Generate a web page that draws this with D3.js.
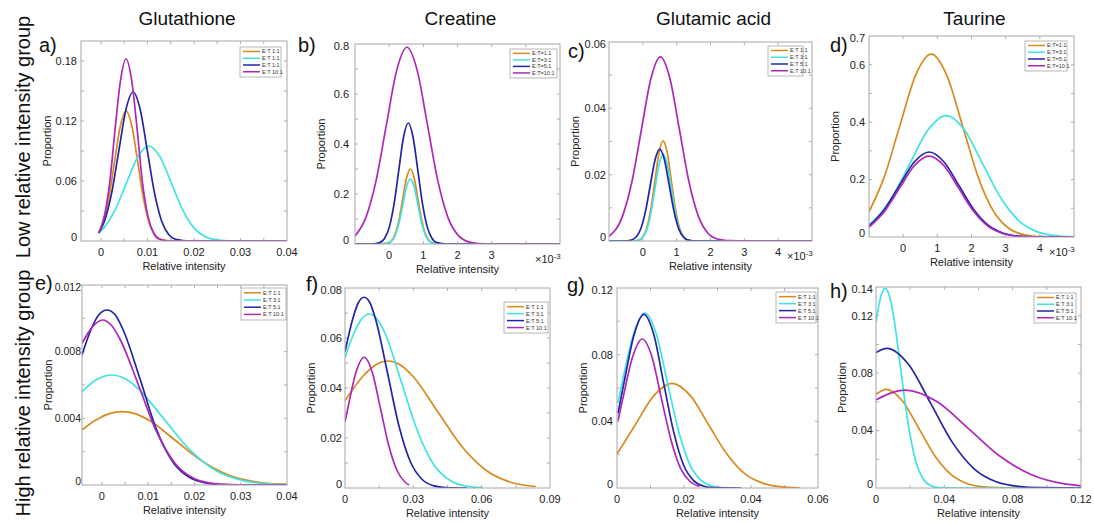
<!DOCTYPE html>
<html>
<head>
<meta charset="utf-8">
<script src="https://cdn.jsdelivr.net/npm/d3@7"></script>
<style>
  body { margin: 0; background: #fff; }
  svg { display: block; font-family: "Liberation Sans", Arial, sans-serif; }
</style>
</head>
<body>
<svg id="fig" width="1094" height="524"></svg>
<script>
// column / row headings
const colTitles = ["Glutathione", "Creatine", "Glutamic acid", "Taurine"];
const rowTitles = ["Low relative intensity group", "High relative intensity group"];

// legend entries (as printed in each panel)
const legendA = ["E:T 1:1", "E:T 1:1", "E:T 1:1", "E:T 10:1"];
const legendEq = ["E:T=1:1", "E:T=3:1", "E:T=5:1", "E:T=10:1"];
const legendSp = ["E:T 1:1", "E:T 3:1", "E:T 5:1", "E:T 10:1"];

// curves, [relative intensity, proportion]; series order: 1:1, 3:1, 5:1, 10:1
// a) Glutathione, low
const aOrange = [[-0.0005,0.008],[0.0004,0.0176],[0.00165,0.0422],[0.0029,0.0788],[0.00415,0.1147],[0.0054,0.13],[0.00665,0.1147],[0.0079,0.0788],[0.00915,0.0422],[0.0104,0.0176],[0.01165,0.0057],[0.0129,0.0014],[0.0154,0],[0.04,0]];
const aCyan = [[-0.0005,0.008],[0.00058,0.0129],[0.00301,0.0308],[0.00544,0.0576],[0.00787,0.0838],[0.0103,0.095],[0.01273,0.0838],[0.01516,0.0576],[0.01759,0.0308],[0.02002,0.0129],[0.02245,0.0042],[0.02488,0.0011],[0.02731,0.0002],[0.0297,0],[0.04,0]];
const aBlue = [[-0.0005,0.008],[0.00078,0.0202],[0.00231,0.0484],[0.00384,0.0904],[0.00537,0.1315],[0.0069,0.149],[0.00843,0.1315],[0.00996,0.0904],[0.01149,0.0484],[0.01302,0.0202],[0.01455,0.0065],[0.01608,0.0017],[0.01914,0],[0.04,0]];
const aMagenta = [[-0.0005,0.008],[0.0007,0.0246],[0.0019,0.0591],[0.003,0.1104],[0.0042,0.1606],[0.0054,0.182],[0.0066,0.1606],[0.0078,0.1104],[0.0089,0.0591],[0.0101,0.0246],[0.0113,0.008],[0.0125,0.002],[0.0148,0],[0.04,0]];

// b) Creatine, low (x in units of 10^-3)
const bOrange = [[-1,0],[-0.3,0],[-0.04,0.0033],[0.07,0.0132],[0.18,0.0406],[0.29,0.0974],[0.4,0.182],[0.51,0.2648],[0.62,0.3],[0.73,0.2648],[0.84,0.182],[0.95,0.0974],[1.06,0.0406],[1.17,0.0132],[1.28,0.0033],[1.5,0],[5,0]];
const bCyan = [[-1,0],[-0.3,0],[-0.04,0.0029],[0.07,0.0114],[0.18,0.0352],[0.29,0.0844],[0.4,0.1577],[0.51,0.2295],[0.62,0.26],[0.73,0.2295],[0.84,0.1577],[0.95,0.0844],[1.06,0.0352],[1.17,0.0114],[1.28,0.0029],[1.5,0],[5,0]];
const bBlue = [[-1,0],[-0.5,0],[-0.28,0.0054],[-0.14,0.0212],[0,0.0655],[0.14,0.1572],[0.28,0.2935],[0.42,0.4271],[0.56,0.484],[0.7,0.4271],[0.84,0.2935],[0.98,0.1572],[1.12,0.0655],[1.26,0.0212],[1.4,0.0054],[1.68,0],[5,0]];
const bMagenta = [[-1,0.032],[-0.68,0.1065],[-0.38,0.2555],[-0.08,0.4773],[0.22,0.6945],[0.52,0.787],[0.82,0.6945],[1.12,0.4773],[1.42,0.2555],[1.72,0.1065],[2.02,0.0345],[2.32,0.0087],[2.62,0.0017],[3,0],[5,0]];

// c) Glutamic acid, low (x in units of 10^-3)
const cOrange = [[-1,0],[-0.3,0],[-0.12,0.0003],[0,0.0013],[0.12,0.0041],[0.24,0.0098],[0.36,0.0183],[0.48,0.0267],[0.6,0.0302],[0.72,0.0267],[0.84,0.0183],[0.96,0.0098],[1.08,0.0041],[1.2,0.0013],[1.32,0.0003],[1.6,0],[5,0]];
const cCyan = [[-1,0],[-0.3,0],[-0.12,0.0003],[0,0.0012],[0.12,0.0035],[0.24,0.0085],[0.36,0.0159],[0.48,0.0231],[0.6,0.0262],[0.72,0.0231],[0.84,0.0159],[0.96,0.0085],[1.08,0.0035],[1.2,0.0012],[1.32,0.0003],[1.6,0],[5,0]];
const cBlue = [[-1,0],[-0.55,0],[-0.34,0.0003],[-0.2,0.0012],[-0.06,0.0037],[0.08,0.009],[0.22,0.0168],[0.36,0.0244],[0.5,0.0277],[0.64,0.0244],[0.78,0.0168],[0.92,0.009],[1.06,0.0037],[1.2,0.0012],[1.34,0.0003],[1.6,0],[5,0]];
const cMagenta = [[-1,0.0014],[-0.6,0.0075],[-0.32,0.018],[-0.04,0.0337],[0.24,0.049],[0.52,0.0555],[0.8,0.049],[1.08,0.0337],[1.36,0.018],[1.64,0.0075],[1.92,0.0024],[2.2,0.0006],[2.6,0.0001],[3,0],[5,0]];

// d) Taurine, low (x in units of 10^-3)
const dOrange = [[-1,0.088],[-0.56,0.2068],[-0.1,0.3863],[0.36,0.5622],[0.82,0.637],[1.28,0.5622],[1.74,0.3863],[2.2,0.2068],[2.66,0.0862],[3.12,0.028],[3.58,0.0071],[4.04,0.0014],[4.5,0.0002],[5,0]];
const dCyan = [[-1,0.043],[-0.7,0.0764],[-0.33,0.1373],[0.2,0.2566],[0.73,0.3733],[1.26,0.423],[1.79,0.3733],[2.32,0.2566],[2.85,0.1373],[3.38,0.0572],[3.91,0.0186],[4.44,0.0047],[5,0.0008]];
const dBlue = [[-1,0.038],[-0.55,0.0961],[-0.11,0.1795],[0.325,0.2612],[0.76,0.296],[1.195,0.2612],[1.63,0.1795],[2.065,0.0961],[2.5,0.04],[2.935,0.013],[3.37,0.0033],[3.8,0.0007],[4.5,0],[5,0]];
const dMagenta = [[-1,0.0345],[-0.53,0.0916],[-0.1,0.171],[0.33,0.2489],[0.76,0.282],[1.19,0.2489],[1.62,0.171],[2.05,0.0916],[2.48,0.0382],[2.91,0.0124],[3.34,0.0031],[3.8,0.0005],[4.5,0],[5,0]];

// e) Glutathione, high
const eOrange = [[-0.0043,0.0033],[-0.0014,0.00388],[0.0015,0.00427],[0.0044,0.0044],[0.0073,0.00427],[0.0102,0.00388],[0.0159,0.00267],[0.0217,0.00143],[0.0274,0.0006],[0.0332,0.00019],[0.0389,0.00005],[0.04,0.00004]];
const eCyan = [[-0.0043,0.0056],[-0.001,0.00634],[0.0021,0.0066],[0.0049,0.00639],[0.0077,0.00582],[0.0133,0.004],[0.0189,0.00214],[0.0245,0.00089],[0.0301,0.00029],[0.0357,0.00007],[0.04,0.00002]];
const eBlue = [[-0.0043,0.0078],[-0.0024,0.0093],[-0.0007,0.0102],[0.0011,0.0105],[0.0029,0.0102],[0.0046,0.0093],[0.0082,0.0064],[0.0117,0.0034],[0.0153,0.0014],[0.0189,0.00046],[0.0224,0.00012],[0.026,0.00002],[0.03,0],[0.04,0]];
const eMagenta = [[-0.0043,0.0085],[-0.002,0.0095],[0.0001,0.0099],[0.002,0.0096],[0.004,0.0087],[0.0079,0.006],[0.0118,0.0032],[0.0157,0.00134],[0.0196,0.00043],[0.0235,0.00011],[0.0274,0.00002],[0.032,0],[0.04,0]];

// f) Creatine, high
const fOrange = [[0,0.0349],[0.008,0.0448],[0.0134,0.0492],[0.0188,0.0508],[0.0243,0.0492],[0.0297,0.0448],[0.0405,0.0308],[0.0514,0.0165],[0.0622,0.0069],[0.0731,0.0022],[0.0837,0.0006]];
const fCyan = [[0,0.0521],[0.0037,0.0614],[0.0072,0.0675],[0.0107,0.0696],[0.0142,0.0675],[0.0178,0.0614],[0.0248,0.0422],[0.0319,0.0226],[0.0389,0.0094],[0.046,0.0031],[0.053,0.0008],[0.0603,0.00015]];
const fBlue = [[0,0.0545],[0.0033,0.0673],[0.0058,0.074],[0.0084,0.0763],[0.011,0.074],[0.0135,0.0673],[0.0186,0.0463],[0.0237,0.0248],[0.0288,0.0103],[0.0339,0.0034],[0.039,0.00085],[0.0441,0.00017],[0.0536,0]];
const fMagenta = [[0,0.0265],[0.0012,0.0317],[0.0048,0.0462],[0.0084,0.0523],[0.012,0.0462],[0.0156,0.0317],[0.0192,0.017],[0.0228,0.0071],[0.0264,0.0023],[0.0281,0.0012]];

// g) Glutamic acid, high
const gOrange = [[0,0.0204],[0.0055,0.0381],[0.011,0.0554],[0.0164,0.0628],[0.0219,0.0554],[0.0273,0.0381],[0.0328,0.0204],[0.0382,0.0085],[0.0437,0.0028],[0.0491,0.0007],[0.0545,0.0001]];
const gCyan = [[0.0003,0.0511],[0.0016,0.0637],[0.005,0.0927],[0.0083,0.105],[0.0117,0.0927],[0.015,0.0637],[0.0184,0.0341],[0.0217,0.0142],[0.0251,0.0046],[0.0284,0.0012],[0.031,0.0002]];
const gBlue = [[0.0003,0.0448],[0.0021,0.0632],[0.0051,0.092],[0.008,0.1042],[0.011,0.092],[0.0139,0.0632],[0.0169,0.0338],[0.0198,0.0141],[0.0228,0.0046],[0.0257,0.0012],[0.0287,0.0002],[0.037,0]];
const gMagenta = [[0.0003,0.0405],[0.0018,0.0542],[0.0047,0.0789],[0.0075,0.0894],[0.0104,0.0789],[0.0132,0.0542],[0.0161,0.029],[0.0189,0.0121],[0.0218,0.0039],[0.0246,0.001]];

// h) Taurine, high
const hOrange = [[0,0.0653],[0.006,0.0687],[0.0155,0.0606],[0.025,0.0417],[0.0345,0.0223],[0.044,0.0093],[0.0535,0.003],[0.063,0.0008],[0.0725,0.0002],[0.08,0],[0.09,0]];
const hCyan = [[0,0.1155],[0.0027,0.1329],[0.0054,0.139],[0.0076,0.1347],[0.0099,0.1227],[0.0143,0.0843],[0.0188,0.0451],[0.0232,0.0188],[0.0277,0.0061],[0.0321,0.0015],[0.0366,0.0003],[0.045,0],[0.12,0]];
const hBlue = [[0,0.0943],[0.0064,0.0973],[0.0192,0.0859],[0.032,0.059],[0.0448,0.0316],[0.0576,0.0132],[0.0704,0.0043],[0.0832,0.0011],[0.096,0.0002],[0.12,0]];
const hMagenta = [[0,0.0614],[0.0171,0.0682],[0.0356,0.0602],[0.0541,0.0414],[0.0726,0.0221],[0.0911,0.0092],[0.1096,0.003],[0.12,0.0015]];

// tick labels
const aXT = [0, 0.01, 0.02, 0.03, 0.04], aYT = [0, 0.06, 0.12, 0.18];
const bXT = [0, 1, 2, 3], bYT = [0, 0.2, 0.4, 0.6, 0.8];
const cXT = [0, 1, 2, 3, 4], cYT = [0, 0.02, 0.04, 0.06];
const dXT = [0, 1, 2, 3, 4], dYT = [0, 0.2, 0.4, 0.6, 0.7];
const eXT = [0, 0.01, 0.02, 0.03, 0.04], eYT = [0, 0.004, 0.008, 0.012];
const fXT = [0, 0.03, 0.06, 0.09], fYT = [0, 0.02, 0.04, 0.06, 0.08];
const gXT = [0, 0.02, 0.04, 0.06], gYT = [0, 0.04, 0.08, 0.12];
const hXT = [0, 0.04, 0.08, 0.12], hYT = [0, 0.04, 0.08, 0.12, 0.14];

const colors = ["#d98a1e", "#3fe3e3", "#2424a6", "#ae27b5"];

// layout: box = [left, top, right, bottom]; yg = gap / font size of y labels
const panels = [
  { id: "a)", box: [81, 41, 287, 241], xd: [-0.0043, 0.04], yd: [0, 0.2], xt: aXT, yt: aYT, xm: 0.005, ym: 0.03,
    series: [aOrange, aCyan, aBlue, aMagenta], legend: legendA, lg: [240, 47, 41, 30], lt: [39, 52], exp: false, yg: [4, 11] },
  { id: "b)", box: [355, 44, 560, 244], xd: [-1, 5], yd: [0, 0.8], xt: bXT, yt: bYT, xm: 1, ym: 0.1,
    series: [bOrange, bCyan, bBlue, bMagenta], legend: legendEq, lg: [510, 49, 47, 29], lt: [298, 52], exp: true, yg: [6, 11] },
  { id: "c)", box: [609, 42, 812, 241], xd: [-1, 5], yd: [0, 0.06], xt: cXT, yt: cYT, xm: 1, ym: 0.01,
    series: [cOrange, cCyan, cBlue, cMagenta], legend: legendSp, lg: [768, 46, 35, 30], lt: [568, 58], exp: true, yg: [3, 11] },
  { id: "d)", box: [869, 36, 1074, 237], xd: [-1, 5], yd: [0, 0.7], xt: dXT, yt: dYT, xm: 1, ym: 0.1,
    series: [dOrange, dCyan, dBlue, dMagenta], legend: legendEq, lg: [1025, 41, 42, 30], lt: [830, 52], exp: true, yg: [4, 11] },
  { id: "e)", box: [82, 285, 287, 485], xd: [-0.0043, 0.04], yd: [0, 0.012], xt: eXT, yt: eYT, xm: 0.005, ym: 0.002,
    series: [eOrange, eCyan, eBlue, eMagenta], legend: legendSp, lg: [241, 288, 45, 32], lt: [35, 290], exp: false, yg: [1, 10.5] },
  { id: "f)", box: [345, 288, 550, 488], xd: [0, 0.09], yd: [0, 0.08], xt: fXT, yt: fYT, xm: 0.015, ym: 0.01,
    series: [fOrange, fCyan, fBlue, fMagenta], legend: legendSp, lg: [504, 302, 44, 31], lt: [306, 291], exp: false, yg: [3, 11] },
  { id: "g)", box: [617, 288, 818, 488], xd: [0, 0.06], yd: [0, 0.12], xt: gXT, yt: gYT, xm: 0.01, ym: 0.02,
    series: [gOrange, gCyan, gBlue, gMagenta], legend: legendSp, lg: [776, 292, 40, 31], lt: [567, 292], exp: false, yg: [4, 11] },
  { id: "h)", box: [876, 287, 1081, 488], xd: [0, 0.12], yd: [0, 0.14], xt: hXT, yt: hYT, xm: 0.02, ym: 0.02,
    series: [hOrange, hCyan, hBlue, hMagenta], legend: legendSp, lg: [1034, 293, 42, 30], lt: [830, 298], exp: false, yg: [3, 11] }
];

const svg = d3.select("#fig");
svg.append("rect").attr("width", 1094).attr("height", 524).attr("fill", "#fff");

// column titles, centred over each column of panels
colTitles.forEach((t, i) => {
  const p = panels[i];
  svg.append("text")
    .attr("x", (p.box[0] + p.box[2]) / 2 + 3)
    .attr("y", 25)
    .attr("text-anchor", "middle")
    .attr("font-size", 19)
    .attr("fill", "#111")
    .text(t);
});

// row titles
[137, 393].forEach((cy, i) => {
  svg.append("text")
    .attr("transform", `translate(30,${cy}) rotate(-90)`)
    .attr("text-anchor", "middle")
    .attr("font-size", 20)
    .attr("fill", "#111")
    .text(rowTitles[i]);
});

panels.forEach((p, pi) => {
  const [L, T, R, B] = p.box;
  const x = d3.scaleLinear().domain(p.xd).range([L, R]);
  const y = d3.scaleLinear().domain(p.yd).range([B, T]);
  const g = svg.append("g");

  g.append("clipPath").attr("id", "clip" + pi)
    .append("rect").attr("x", L).attr("y", T).attr("width", R - L).attr("height", B - T);

  // minor ticks, inside on all four sides
  const eps = 1e-9;
  const xMinor = d3.range(Math.ceil(p.xd[0] / p.xm - eps) * p.xm, p.xd[1] + eps, p.xm);
  const yMinor = d3.range(0, p.yd[1] + eps, p.ym);
  const tk = g.append("g").attr("stroke", "#9a9a9a").attr("stroke-width", 0.8);
  xMinor.forEach(v => {
    const px = x(v);
    if (px <= L + 1 || px >= R - 1) return;
    tk.append("line").attr("x1", px).attr("x2", px).attr("y1", B).attr("y2", B - 3);
    tk.append("line").attr("x1", px).attr("x2", px).attr("y1", T).attr("y2", T + 3);
  });
  yMinor.forEach(v => {
    const py = y(v);
    if (py >= B - 1 || py <= T + 1) return;
    tk.append("line").attr("x1", L).attr("x2", L + 3).attr("y1", py).attr("y2", py);
    tk.append("line").attr("x1", R).attr("x2", R - 3).attr("y1", py).attr("y2", py);
  });

  // curves
  const line = d3.line().x(d => x(d[0])).y(d => y(d[1])).curve(d3.curveMonotoneX);
  g.append("g").attr("clip-path", `url(#clip${pi})`)
    .selectAll("path")
    .data(p.series)
    .join("path")
    .attr("d", line)
    .attr("fill", "none")
    .attr("stroke", (d, i) => colors[i])
    .attr("stroke-width", 1.7)
    .attr("stroke-linejoin", "round");

  // box
  g.append("rect")
    .attr("x", L).attr("y", T).attr("width", R - L).attr("height", B - T)
    .attr("fill", "none").attr("stroke", "#a6a6a6").attr("stroke-width", 1);

  // y tick labels
  g.selectAll(".yl").data(p.yt).join("text")
    .attr("x", L - p.yg[0])
    .attr("y", v => y(v) + (v === 0 ? -4 : (v === p.yd[1] ? 2 : 0)))
    .attr("dy", "0.35em")
    .attr("text-anchor", "end")
    .attr("font-size", p.yg[1])
    .attr("fill", "#222")
    .text(v => String(v));

  // x tick labels
  g.selectAll(".xl").data(p.xt).join("text")
    .attr("x", v => x(v))
    .attr("y", B + 15)
    .attr("text-anchor", "middle")
    .attr("font-size", 11)
    .attr("fill", "#222")
    .text(v => String(v));

  // axis titles
  g.append("text")
    .attr("x", (L + R) / 2).attr("y", B + 29)
    .attr("text-anchor", "middle").attr("font-size", 11).attr("fill", "#222")
    .text("Relative intensity");
  g.append("text")
    .attr("transform", `translate(${L - 30},${(T + B) / 2}) rotate(-90)`)
    .attr("text-anchor", "middle").attr("font-size", 11).attr("fill", "#222")
    .text("Proportion");

  if (p.exp) {
    const t = g.append("text")
      .attr("x", R - 25).attr("y", B + 19)
      .attr("font-size", 11).attr("fill", "#222");
    t.append("tspan").text("\u00d710");
    t.append("tspan").attr("dy", -4).attr("font-size", 8).text("-3");
  }

  // panel letter
  g.append("text")
    .attr("x", p.lt[0]).attr("y", p.lt[1])
    .attr("font-size", 20).attr("fill", "#111")
    .text(p.id);

  // legend
  const [lx, ly, lw, lh] = p.lg;
  const lg = g.append("g");
  lg.append("rect").attr("x", lx).attr("y", ly).attr("width", lw).attr("height", lh)
    .attr("fill", "#fff").attr("stroke", "#a6a6a6").attr("stroke-width", 0.8);
  p.legend.forEach((name, i) => {
    const yy = ly + lh * (0.15 + i * 0.225);
    lg.append("line")
      .attr("x1", lx + 3).attr("x2", lx + 20)
      .attr("y1", yy).attr("y2", yy)
      .attr("stroke", colors[i]).attr("stroke-width", 1.5);
    lg.append("text")
      .attr("x", lx + 22).attr("y", yy)
      .attr("dy", "0.35em")
      .attr("font-size", 5.5).attr("fill", "#333")
      .text(name);
  });
});
</script>
</body>
</html>
